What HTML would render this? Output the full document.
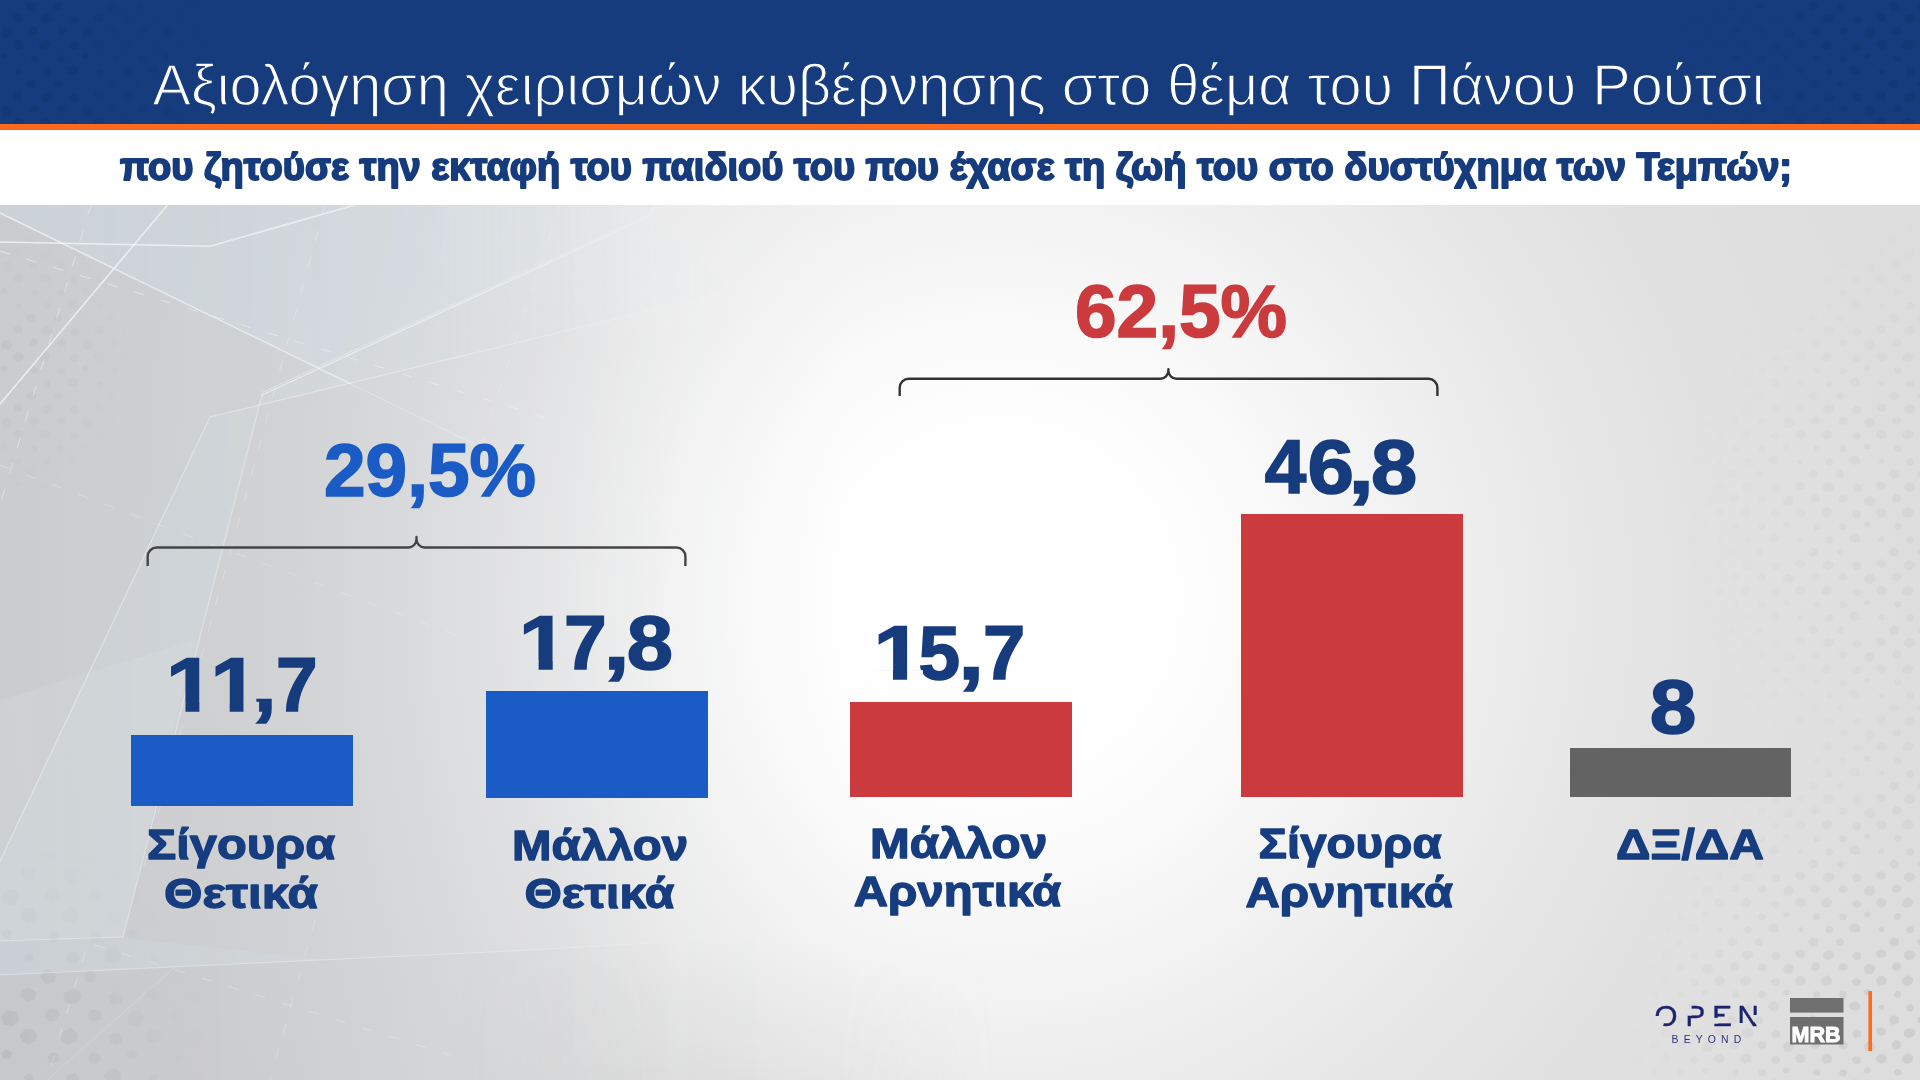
<!DOCTYPE html>
<html lang="el">
<head>
<meta charset="utf-8">
<title>Αξιολόγηση χειρισμών κυβέρνησης στο θέμα του Πάνου Ρούτσι</title>
<style>
  html, body { margin: 0; padding: 0; }
  body { width: 1920px; height: 1080px; overflow: hidden; background: #e6e6e6;
         font-family: "Liberation Sans", sans-serif; }
  #stage { position: absolute; left: 0; top: 0; width: 1920px; height: 1080px; overflow: hidden;
    background:
      radial-gradient(ellipse 240px 150px at 630px 205px, rgba(255,255,255,0.2), rgba(255,255,255,0)),
      linear-gradient(90deg, rgba(150,156,166,0.28) 0px, rgba(150,156,166,0.227) 250px, rgba(150,156,166,0.146) 450px,
        rgba(150,156,166,0.11) 560px, rgba(150,156,166,0.04) 680px, rgba(150,156,166,0) 850px),
      radial-gradient(circle at 1000px 600px, #ffffff 0px, #ffffff 130px, #fcfcfc 240px, #f5f5f5 355px,
        #eeeeee 470px, #e8e8e8 566px, #e2e2e2 700px, #dedede 900px, #dcdcdc 1100px);
  }
  #hdr { position: absolute; left: 0; top: 0; width: 1920px; height: 124px; background: #163c7e; }
  #orange { position: absolute; left: 0; top: 124px; width: 1920px; height: 6px; background: #ff6a1c; }
  #sub { position: absolute; left: 0; top: 130px; width: 1920px; height: 75px; background: #ffffff; }
  svg { position: absolute; left: 0; top: 0; }
  .t { font-family: "Liberation Sans", sans-serif; }
  .b { font-family: "Liberation Sans", sans-serif; font-weight: bold; }
</style>
</head>
<body>
<div id="stage">
  <div id="hdr"></div>
  <div id="orange"></div>
  <div id="sub"></div>

  <svg id="art" width="1920" height="1080" viewBox="0 0 1920 1080">
    <!-- BG-DECOR -->
    <defs>
      <pattern id="dots" width="81" height="78" patternUnits="userSpaceOnUse"><g fill="#000" stroke="#000" stroke-width="1.6" stroke-linejoin="round">
        <path d="M35.2,4.0 L34.8,8.5 L29.5,10.0 L26.6,5.9 L30.0,1.9 Z"/>
        <path d="M55.0,4.8 L58.9,2.7 L61.5,5.8 L60.0,9.3 L55.7,8.3 Z"/>
        <path d="M21.7,20.2 L17.6,21.3 L14.4,19.2 L14.3,15.4 L18.6,14.0 L22.3,16.3 Z"/>
        <path d="M42.2,16.9 L45.8,15.0 L50.2,15.7 L51.8,19.5 L49.1,22.4 L44.9,23.3 L41.7,20.6 Z"/>
        <path d="M78.2,22.2 L73.0,23.4 L70.9,19.3 L74.1,16.0 L78.4,18.0 Z"/>
        <path d="M4.9,28.6 L10.0,29.4 L11.6,33.5 L8.5,37.2 L3.0,36.5 L1.7,32.0 Z"/>
        <path d="M32.7,34.3 L29.5,32.4 L30.1,29.3 L32.6,27.0 L36.2,27.9 L37.7,30.7 L36.2,33.3 Z"/>
        <path d="M57.9,33.1 L57.8,30.3 L59.4,28.1 L62.7,28.0 L65.0,30.1 L64.2,33.0 L61.1,34.3 Z"/>
        <path d="M23.1,43.7 L22.4,47.1 L18.8,48.8 L15.1,47.4 L13.6,44.0 L16.2,40.9 L20.5,41.0 Z"/>
        <path d="M49.6,43.4 L48.2,47.7 L43.3,49.1 L39.5,46.1 L41.2,42.2 L45.8,40.1 Z"/>
        <path d="M71.7,48.0 L70.5,45.2 L73.2,43.3 L76.3,43.4 L78.3,45.5 L77.5,48.2 L74.5,49.5 Z"/>
        <path d="M7.1,55.7 L5.8,58.3 L2.6,58.4 L1.5,55.8 L4.2,53.9 Z"/>
        <path d="M37.3,60.2 L33.3,61.2 L31.5,58.0 L34.1,55.7 L37.4,57.0 Z"/>
        <path d="M57.9,58.5 L59.5,55.9 L62.9,56.5 L64.5,59.0 L62.5,61.6 L58.9,61.2 Z"/>
        <path d="M16.3,71.2 L17.9,69.8 L19.9,70.1 L20.8,71.6 L19.5,73.1 L17.4,72.9 Z"/>
        <path d="M48.6,68.8 L50.4,71.6 L49.1,74.4 L45.5,74.6 L43.7,72.1 L45.1,69.6 Z"/>
        <path d="M74.5,66.0 L77.3,69.0 L77.3,73.0 L73.0,74.1 L69.3,72.9 L67.6,69.7 L70.2,66.7 Z"/>
      </g></pattern>
      <pattern id="dotsL" href="#dots" patternTransform="scale(1.55)"/>
      <radialGradient id="fadeBR" gradientUnits="userSpaceOnUse" cx="1960" cy="1040" r="340">
        <stop offset="0" stop-color="#fff" stop-opacity="1"/><stop offset="0.55" stop-color="#fff" stop-opacity="0.55"/><stop offset="1" stop-color="#fff" stop-opacity="0"/>
      </radialGradient>
      <radialGradient id="fadeR" gradientUnits="userSpaceOnUse" cx="1990" cy="520" r="330">
        <stop offset="0" stop-color="#fff" stop-opacity="0.9"/><stop offset="0.6" stop-color="#fff" stop-opacity="0.4"/><stop offset="1" stop-color="#fff" stop-opacity="0"/>
      </radialGradient>
      <radialGradient id="fadeBL" gradientUnits="userSpaceOnUse" cx="-30" cy="1060" r="250">
        <stop offset="0" stop-color="#fff" stop-opacity="1"/><stop offset="0.6" stop-color="#fff" stop-opacity="0.5"/><stop offset="1" stop-color="#fff" stop-opacity="0"/>
      </radialGradient>
      <radialGradient id="fadeTL" gradientUnits="userSpaceOnUse" cx="-10" cy="360" r="150">
        <stop offset="0" stop-color="#fff" stop-opacity="1"/><stop offset="0.6" stop-color="#fff" stop-opacity="0.5"/><stop offset="1" stop-color="#fff" stop-opacity="0"/>
      </radialGradient>
      <radialGradient id="fadeHL" gradientUnits="userSpaceOnUse" cx="-10" cy="70" r="230">
        <stop offset="0" stop-color="#fff" stop-opacity="1"/><stop offset="0.6" stop-color="#fff" stop-opacity="0.5"/><stop offset="1" stop-color="#fff" stop-opacity="0"/>
      </radialGradient>
      <radialGradient id="fadeHR" gradientUnits="userSpaceOnUse" cx="1930" cy="40" r="260">
        <stop offset="0" stop-color="#fff" stop-opacity="1"/><stop offset="0.6" stop-color="#fff" stop-opacity="0.5"/><stop offset="1" stop-color="#fff" stop-opacity="0"/>
      </radialGradient>
      <mask id="mBR" maskUnits="userSpaceOnUse" x="1500" y="600" width="420" height="480"><rect x="1500" y="600" width="420" height="480" fill="url(#fadeBR)"/></mask>
      <mask id="mR" maskUnits="userSpaceOnUse" x="1640" y="205" width="280" height="700"><rect x="1640" y="205" width="280" height="700" fill="url(#fadeR)"/></mask>
      <mask id="mBL" maskUnits="userSpaceOnUse" x="0" y="760" width="340" height="320"><rect x="0" y="760" width="340" height="320" fill="url(#fadeBL)"/></mask>
      <mask id="mTL" maskUnits="userSpaceOnUse" x="0" y="215" width="150" height="300"><rect x="0" y="215" width="150" height="300" fill="url(#fadeTL)"/></mask>
      <mask id="mHL" maskUnits="userSpaceOnUse" x="0" y="0" width="240" height="124"><rect x="0" y="0" width="240" height="124" fill="url(#fadeHL)"/></mask>
      <mask id="mHR" maskUnits="userSpaceOnUse" x="1660" y="0" width="260" height="124"><rect x="1660" y="0" width="260" height="124" fill="url(#fadeHR)"/></mask>
      <linearGradient id="fadeRight" gradientUnits="userSpaceOnUse" x1="0" y1="0" x2="800" y2="0">
        <stop offset="0" stop-color="#fff" stop-opacity="1"/><stop offset="0.55" stop-color="#fff" stop-opacity="0.8"/><stop offset="1" stop-color="#fff" stop-opacity="0"/>
      </linearGradient>
      <mask id="mLeft" maskUnits="userSpaceOnUse" x="0" y="205" width="820" height="875"><rect x="0" y="205" width="820" height="875" fill="url(#fadeRight)"/></mask>
      <linearGradient id="gD" gradientUnits="userSpaceOnUse" x1="0" y1="800" x2="0" y2="1080">
        <stop offset="0" stop-color="#969698" stop-opacity="0"/><stop offset="0.5" stop-color="#969698" stop-opacity="0"/><stop offset="1" stop-color="#969698" stop-opacity="0.07"/>
      </linearGradient>
      <linearGradient id="gDm" gradientUnits="userSpaceOnUse" x1="0" y1="0" x2="1050" y2="0">
        <stop offset="0" stop-color="#fff" stop-opacity="0"/><stop offset="0.45" stop-color="#fff" stop-opacity="0"/><stop offset="0.62" stop-color="#fff" stop-opacity="1"/>
        <stop offset="0.80" stop-color="#fff" stop-opacity="1"/><stop offset="0.95" stop-color="#fff" stop-opacity="0"/><stop offset="1" stop-color="#fff" stop-opacity="0"/>
      </linearGradient>
      <mask id="mD" maskUnits="userSpaceOnUse" x="0" y="800" width="1050" height="280"><rect x="0" y="800" width="1050" height="280" fill="url(#gDm)"/></mask>
    </defs>

    <rect x="0" y="800" width="1050" height="280" fill="url(#gD)" mask="url(#mD)"/>

    <!-- dot textures -->
    <rect x="0" y="0" width="240" height="124" fill="url(#dots)" opacity="0.075" mask="url(#mHL)"/>
    <rect x="1660" y="0" width="260" height="124" fill="url(#dots)" opacity="0.075" mask="url(#mHR)"/>
    <rect x="1500" y="600" width="420" height="480" fill="url(#dots)" opacity="0.075" mask="url(#mBR)"/>
    <rect x="1640" y="205" width="280" height="700" fill="url(#dots)" opacity="0.05" mask="url(#mR)"/>
    <rect x="0" y="760" width="340" height="320" fill="url(#dotsL)" opacity="0.055" mask="url(#mBL)"/>
    <rect x="0" y="215" width="150" height="300" fill="url(#dots)" opacity="0.04" mask="url(#mTL)"/>

    <!-- tinted panels + line work (left side) -->
    <g mask="url(#mLeft)">
      <polygon points="0,205 655,205 648,217 322,369 0,213" fill="#d4ecf6" opacity="0.25"/>
      <polygon points="648,217 732,291 210,417 62,730 0,861 0,941 123,937 262,395 322,369" fill="#d4ecf6" opacity="0.17"/>
      <polygon points="0,213 322,369 262,395 210,417 62,730 0,861" fill="#d4ecf6" opacity="0.07"/>
      <polygon points="0,941 123,937 195,640 0,700" fill="#ffffff" opacity="0.07"/>
      <polygon points="0,941 124,938 330,960 0,975" fill="#d4ecf6" opacity="0.16"/>
      <polygon points="0,975 480,952.5 820,934 820,1080 0,1080" fill="#5a5c60" opacity="0.02"/>
      <g fill="none" stroke="#ffffff" stroke-linecap="round">
        <path d="M0,213 L350,383.5" stroke-width="1.4" opacity="0.6"/>
        <path d="M350,383.5 L470,442" stroke-width="1.2" opacity="0.3"/>
        <path d="M0,242 L210,246.3 L355,205" stroke-width="1.5" opacity="0.65"/>
        <path d="M167.5,205 L0,404" stroke-width="1.6" opacity="0.65"/>
        <path d="M655,205 L648,217 L262,395" stroke-width="1.3" opacity="0.6"/>
        <path d="M652,213 L262,392.6" stroke-width="1" opacity="0.4"/>
        <path d="M262,395 L123,937 L0,941" stroke-width="1.2" opacity="0.4"/>
        <path d="M760,284 L210,417 L62,730 L0,861" stroke-width="1.2" opacity="0.4"/>
        <path d="M0,975 L480,952.5 L820,934" stroke-width="1.2" opacity="0.38"/>
        <path d="M175,967 L47,1080" stroke-width="1" opacity="0.18"/>
        <path d="M95,945 L450,1055" stroke-width="1" opacity="0.3" stroke-dasharray="10 18"/>
        <path d="M315,920 L270,1080" stroke-width="1" opacity="0.25" stroke-dasharray="10 17"/>
        <path d="M85,952 L50,1070" stroke-width="1" opacity="0.3" stroke-dasharray="10 17"/>
        <!-- dashed perspective lines -->
        <path d="M0,251 L560,422" stroke-width="1" opacity="0.45" stroke-dasharray="10 18"/>
        <path d="M91,205 L50,340 L0,505" stroke-width="1" opacity="0.4" stroke-dasharray="10 17"/>
        <path d="M325,205 L250,480 L140,880" stroke-width="1" opacity="0.3" stroke-dasharray="10 17"/>
        <path d="M0,465 L200,540 L470,640" stroke-width="1" opacity="0.25" stroke-dasharray="10 18"/>
        <path d="M560,205 L470,480" stroke-width="1" opacity="0.3" stroke-dasharray="10 17"/>
      </g>
    </g>


    <!-- header text -->
    <text class="t" x="152.5" y="104.6" font-size="57.5" fill="#ffffff" stroke="#163c7e" stroke-width="1.3" textLength="1612" lengthAdjust="spacingAndGlyphs">Αξιολόγηση χειρισμών κυβέρνησης στο θέμα του Πάνου Ρούτσι</text>
    <text class="b" x="120" y="180" font-size="39" fill="#163c7e" stroke="#163c7e" stroke-width="1.9" stroke-linejoin="round" textLength="1672" lengthAdjust="spacingAndGlyphs">που ζητούσε την εκταφή του παιδιού του που έχασε τη ζωή του στο δυστύχημα των Τεμπών;</text>

    <!-- bars -->
    <rect x="131" y="735" width="222" height="71" fill="#1a5bc6"/>
    <rect x="486" y="691" width="222" height="107" fill="#1a5bc6"/>
    <rect x="850" y="702" width="222" height="95" fill="#cb3b3d"/>
    <rect x="1241" y="514" width="222" height="283" fill="#cb3b3d"/>
    <rect x="1570" y="748" width="221" height="49" fill="#636363"/>

    <!-- values -->
    <mask id="feet" maskUnits="userSpaceOnUse" x="100" y="400" width="1700" height="360">
      <rect x="100" y="400" width="1700" height="360" fill="#fff"/>
      <g fill="#000"><rect x="168.7" y="701.8" width="16.8" height="12"/><rect x="199.4" y="701.8" width="15.7" height="12"/><rect x="213.0" y="701.8" width="16.7" height="12"/><rect x="243.5" y="701.8" width="15.6" height="12"/><rect x="521.5" y="659.9" width="17.1" height="12"/><rect x="552.7" y="659.9" width="15.9" height="12"/><rect x="876.0" y="670.1" width="17.0" height="12"/><rect x="907.1" y="670.1" width="15.8" height="12"/></g>
    </mask>
    <g class="b" font-size="76" fill="#163c7e" stroke="#163c7e" stroke-width="1.6" stroke-linejoin="miter" mask="url(#feet)">
      <text y="711.1"><tspan x="166.1" textLength="48.5" lengthAdjust="spacingAndGlyphs">1</tspan><tspan x="210.5" textLength="48.1" lengthAdjust="spacingAndGlyphs">1</tspan><tspan x="250.8" textLength="26.3" lengthAdjust="spacingAndGlyphs">,</tspan><tspan x="276.1" textLength="41.6" lengthAdjust="spacingAndGlyphs">7</tspan></text>
      <text y="669.2"><tspan x="518.8" textLength="49.3" lengthAdjust="spacingAndGlyphs">1</tspan><tspan x="563.9" textLength="42.7" lengthAdjust="spacingAndGlyphs">7</tspan><tspan x="603.5" textLength="26.1" lengthAdjust="spacingAndGlyphs">,</tspan><tspan x="626.7" textLength="46.2" lengthAdjust="spacingAndGlyphs">8</tspan></text>
      <text y="679.4"><tspan x="873.4" textLength="49.0" lengthAdjust="spacingAndGlyphs">1</tspan><tspan x="918.4" textLength="41.6" lengthAdjust="spacingAndGlyphs">5</tspan><tspan x="958.3" textLength="25.8" lengthAdjust="spacingAndGlyphs">,</tspan><tspan x="982.9" textLength="42.3" lengthAdjust="spacingAndGlyphs">7</tspan></text>
      <text y="492.8"><tspan x="1264.7" textLength="41.5" lengthAdjust="spacingAndGlyphs">4</tspan><tspan x="1307.4" textLength="46.5" lengthAdjust="spacingAndGlyphs">6</tspan><tspan x="1348.4" textLength="25.4" lengthAdjust="spacingAndGlyphs">,</tspan><tspan x="1371.0" textLength="46.2" lengthAdjust="spacingAndGlyphs">8</tspan></text>
      <text y="733.4"><tspan x="1649.7" textLength="46.6" lengthAdjust="spacingAndGlyphs">8</tspan></text>
    </g>

    <!-- group totals -->
    <text class="b" x="324" y="495.9" font-size="74.5" fill="#1a5bc6" stroke="#1a5bc6" stroke-width="1.6" textLength="212" lengthAdjust="spacingAndGlyphs">29,5%</text>
    <text class="b" x="1075" y="337" font-size="74.5" fill="#cb3b3d" stroke="#cb3b3d" stroke-width="1.6" textLength="212" lengthAdjust="spacingAndGlyphs">62,5%</text>

    <!-- braces -->
    <g fill="none" stroke="#454545" stroke-width="2.4" stroke-linecap="butt" stroke-linejoin="round">
      <path d="M147.7,566 V556.5 A9,9 0 0 1 156.7,547.5 H408.5 A8,8.5 0 0 0 416.5,539 V537 V539 A8,8.5 0 0 0 424.5,547.5 H676.4 A9,9 0 0 1 685.4,556.5 V566"/>
    </g>
    <g fill="none" stroke="#333333" stroke-width="2.4" stroke-linecap="butt" stroke-linejoin="round">
      <path d="M899.7,396 V387.7 A9,9 0 0 1 908.7,378.7 H1160.4 A8,8 0 0 0 1168.4,370.7 V369.3 V370.7 A8,8 0 0 0 1176.4,378.7 H1428.4 A9,9 0 0 1 1437.4,387.7 V396"/>
    </g>

    <!-- labels -->
    <g class="b" font-size="42.5" fill="#163d80" stroke="#163d80" stroke-width="1.3" stroke-linejoin="round">
      <text x="147" y="859.2" textLength="188.2" lengthAdjust="spacingAndGlyphs">Σίγουρα</text>
      <text x="164" y="907.8" textLength="154" lengthAdjust="spacingAndGlyphs">Θετικά</text>
      <text x="512" y="859.5" textLength="176" lengthAdjust="spacingAndGlyphs">Μάλλον</text>
      <text x="524.4" y="907.8" textLength="149.8" lengthAdjust="spacingAndGlyphs">Θετικά</text>
      <text x="870" y="858.2" textLength="177.2" lengthAdjust="spacingAndGlyphs">Μάλλον</text>
      <text x="853.7" y="906.1" textLength="207.4" lengthAdjust="spacingAndGlyphs">Αρνητικά</text>
      <text x="1258.6" y="858.4" textLength="183" lengthAdjust="spacingAndGlyphs">Σίγουρα</text>
      <text x="1245.5" y="906.6" textLength="207.4" lengthAdjust="spacingAndGlyphs">Αρνητικά</text>
      <text x="1616" y="858.6" textLength="148" lengthAdjust="spacingAndGlyphs">ΔΞ/ΔΑ</text>
    </g>

    <!-- LOGOS -->
    <g id="open-logo">
      <mask id="openmask" maskUnits="userSpaceOnUse" x="1640" y="990" width="140" height="50">
        <rect x="1640" y="990" width="140" height="50" fill="#fff"/>
        <polygon points="1666.3,1015.8 1646,1016.3 1646,1038 1659.2,1038" fill="#000"/>
        <rect x="1683" y="998" width="8.6" height="17.7" fill="#000"/>
        <rect x="1710" y="1017.9" width="8.2" height="5.8" fill="#000"/>
        <rect x="1724.6" y="1011" width="9" height="9" fill="#000"/>
        <polygon points="1753,1015 1762,1015 1762,1030 1760.3,1030 1753,1020.2" fill="#000"/>
        <rect x="1736" y="1023" width="7" height="6" fill="#000"/>
      </mask>
      <text class="t" y="1026.4" font-size="29.5" fill="#1c2471" stroke="#1c2471" stroke-width="0.45" mask="url(#openmask)"
            x="1654.6 1685.6 1712.2 1737.4">OPEN</text>
      <text class="t" x="1671.6" y="1042.6" font-size="10.4" fill="#2a3280" letter-spacing="5.15">BEYOND</text>
    </g>
    <g id="mrb-logo">
      <rect x="1790" y="998" width="53.5" height="14.6" fill="#6f6f6f"/>
      <rect x="1790" y="1017" width="53.5" height="27.5" fill="#6f6f6f"/>
      <text class="b" x="1791.6" y="1042.1" font-size="21.4" fill="#ffffff" stroke="#ffffff" stroke-width="1" stroke-linejoin="round" textLength="49" lengthAdjust="spacingAndGlyphs">MRB</text>
    </g>
    <rect x="1868.4" y="991" width="3.6" height="60" fill="#ff6a1c"/>
  </svg>
</div>
</body>
</html>
